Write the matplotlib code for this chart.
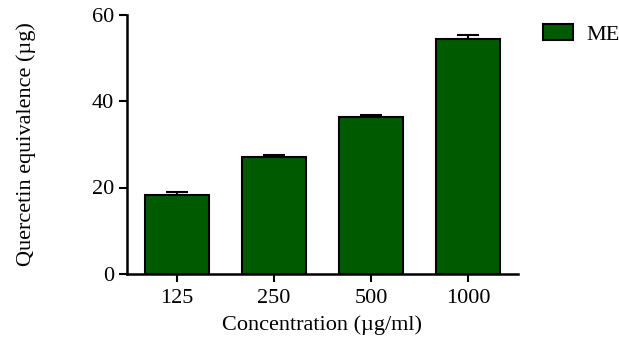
import numpy as np
import matplotlib.pyplot as plt
from matplotlib.patches import Patch

# dados
concentracoes = ['125', '250', '500', '1000']
valores = [18.3, 27.1, 36.4, 54.4]
erros = [0.6, 0.3, 0.4, 0.9]

plt.rcParams['font.family'] = 'Liberation Serif'

fig = plt.figure(figsize=(6.19, 3.38), dpi=100)
ax = fig.add_axes([127/619, 1 - 274/338, (518 - 127)/619, (274 - 14.5)/338])

x = np.arange(len(concentracoes))
ax.bar(x, valores, width=0.66, color='#005a00', edgecolor='black', linewidth=1.5, zorder=2)
ax.errorbar(x, valores, yerr=[np.zeros(len(erros)), erros], fmt='none',
            ecolor='black', elinewidth=1.5, capsize=8, capthick=1.5, zorder=1)

ax.set_xlim(-0.515, 3.515)
ax.set_ylim(0, 60)
ax.set_yticks([0, 20, 40, 60])
ax.set_xticks(x)
ax.set_xticklabels(concentracoes)
ax.spines['top'].set_visible(False)
ax.spines['right'].set_visible(False)
ax.spines['left'].set_linewidth(1.8)
ax.spines['bottom'].set_linewidth(1.8)
ax.tick_params(width=1.5, length=6, labelsize=16)
ax.tick_params(axis='x', pad=5)

ax.set_xlabel('Concentration (µg/ml)', fontsize=16, labelpad=5)
ax.set_ylabel('Quercetin equivalence (µg)', fontsize=16, labelpad=40)

fig.legend(handles=[Patch(facecolor='#005a00', edgecolor='black', linewidth=1.5, label='ME')],
           loc='upper left', bbox_to_anchor=(543/619, 1 - 24/338), frameon=False,
           fontsize=16, handlelength=1.35, handleheight=0.7, handletextpad=0.6,
           borderaxespad=0, borderpad=0)

fig.savefig('out.png', dpi=100)
